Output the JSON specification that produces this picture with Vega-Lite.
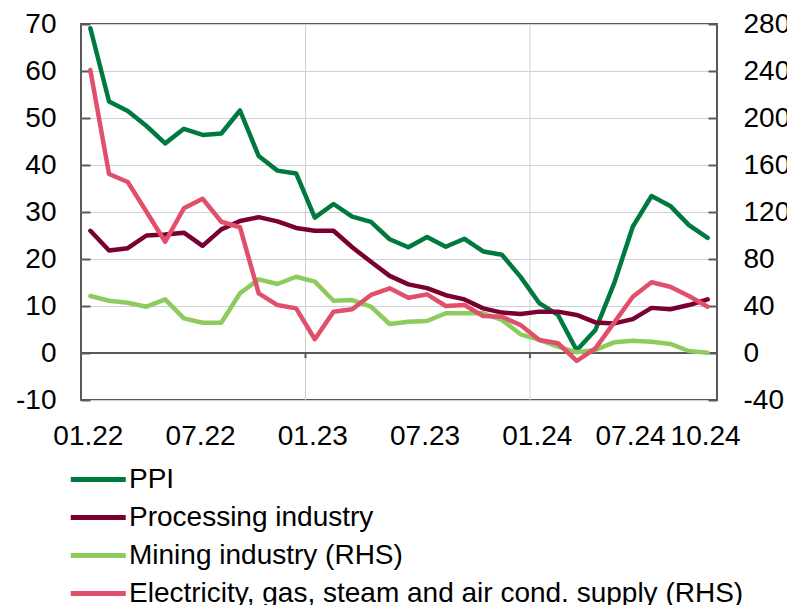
{
  "$schema": "https://vega.github.io/schema/vega-lite/v6.json",
  "width": 636,
  "height": 376,
  "autosize": {"type": "none"},
  "padding": {"left": 81, "top": 24, "right": 70, "bottom": 205},
  "config": {
    "font": "Liberation Sans",
    "view": {"stroke": "#595959", "strokeWidth": 2},
    "axis": {"labelFontSize": 28, "labelColor": "#000000", "labelFont": "Liberation Sans"}
  },
  "datasets": {
    "b": [{"month": "01.23"}, {"month": "01.24"}],
    "z": [{"level": 0}],
    "d": [
      {"month":"01.22","series":"PPI","value":69.1},{"month":"02.22","series":"PPI","value":53.5},{"month":"03.22","series":"PPI","value":51.5},{"month":"04.22","series":"PPI","value":48.3},{"month":"05.22","series":"PPI","value":44.6},{"month":"06.22","series":"PPI","value":47.7},{"month":"07.22","series":"PPI","value":46.4},{"month":"08.22","series":"PPI","value":46.7},{"month":"09.22","series":"PPI","value":51.6},{"month":"10.22","series":"PPI","value":41.9},{"month":"11.22","series":"PPI","value":38.8},{"month":"12.22","series":"PPI","value":38.2},
      {"month":"01.23","series":"PPI","value":28.8},{"month":"02.23","series":"PPI","value":31.7},{"month":"03.23","series":"PPI","value":29.0},{"month":"04.23","series":"PPI","value":27.9},{"month":"05.23","series":"PPI","value":24.2},{"month":"06.23","series":"PPI","value":22.5},{"month":"07.23","series":"PPI","value":24.7},{"month":"08.23","series":"PPI","value":22.6},{"month":"09.23","series":"PPI","value":24.3},{"month":"10.23","series":"PPI","value":21.6},{"month":"11.23","series":"PPI","value":20.9},{"month":"12.23","series":"PPI","value":16.2},
      {"month":"01.24","series":"PPI","value":10.6},{"month":"02.24","series":"PPI","value":8.1},{"month":"03.24","series":"PPI","value":0.6},{"month":"04.24","series":"PPI","value":4.9},{"month":"05.24","series":"PPI","value":14.8},{"month":"06.24","series":"PPI","value":26.9},{"month":"07.24","series":"PPI","value":33.4},{"month":"08.24","series":"PPI","value":31.3},{"month":"09.24","series":"PPI","value":27.2},{"month":"10.24","series":"PPI","value":24.5},
      {"month":"01.22","series":"Processing industry","value":26.0},{"month":"02.22","series":"Processing industry","value":21.8},{"month":"03.22","series":"Processing industry","value":22.3},{"month":"04.22","series":"Processing industry","value":25.0},{"month":"05.22","series":"Processing industry","value":25.2},{"month":"06.22","series":"Processing industry","value":25.6},{"month":"07.22","series":"Processing industry","value":22.8},{"month":"08.22","series":"Processing industry","value":26.3},{"month":"09.22","series":"Processing industry","value":28.1},{"month":"10.22","series":"Processing industry","value":28.9},{"month":"11.22","series":"Processing industry","value":28.0},{"month":"12.22","series":"Processing industry","value":26.6},
      {"month":"01.23","series":"Processing industry","value":26.0},{"month":"02.23","series":"Processing industry","value":26.0},{"month":"03.23","series":"Processing industry","value":22.5},{"month":"04.23","series":"Processing industry","value":19.4},{"month":"05.23","series":"Processing industry","value":16.4},{"month":"06.23","series":"Processing industry","value":14.6},{"month":"07.23","series":"Processing industry","value":13.8},{"month":"08.23","series":"Processing industry","value":12.3},{"month":"09.23","series":"Processing industry","value":11.4},{"month":"10.23","series":"Processing industry","value":9.5},{"month":"11.23","series":"Processing industry","value":8.6},{"month":"12.23","series":"Processing industry","value":8.3},
      {"month":"01.24","series":"Processing industry","value":8.8},{"month":"02.24","series":"Processing industry","value":8.8},{"month":"03.24","series":"Processing industry","value":8.1},{"month":"04.24","series":"Processing industry","value":6.5},{"month":"05.24","series":"Processing industry","value":6.3},{"month":"06.24","series":"Processing industry","value":7.2},{"month":"07.24","series":"Processing industry","value":9.6},{"month":"08.24","series":"Processing industry","value":9.3},{"month":"09.24","series":"Processing industry","value":10.2},{"month":"10.24","series":"Processing industry","value":11.4},
      {"month":"01.22","series":"Mining industry (RHS)","value":48.5},{"month":"02.22","series":"Mining industry (RHS)","value":44.5},{"month":"03.22","series":"Mining industry (RHS)","value":42.8},{"month":"04.22","series":"Mining industry (RHS)","value":39.4},{"month":"05.22","series":"Mining industry (RHS)","value":45.7},{"month":"06.22","series":"Mining industry (RHS)","value":29.5},{"month":"07.22","series":"Mining industry (RHS)","value":25.8},{"month":"08.22","series":"Mining industry (RHS)","value":25.8},{"month":"09.22","series":"Mining industry (RHS)","value":50.8},{"month":"10.22","series":"Mining industry (RHS)","value":62.7},{"month":"11.22","series":"Mining industry (RHS)","value":58.7},{"month":"12.22","series":"Mining industry (RHS)","value":64.9},
      {"month":"01.23","series":"Mining industry (RHS)","value":60.7},{"month":"02.23","series":"Mining industry (RHS)","value":44.5},{"month":"03.23","series":"Mining industry (RHS)","value":45.1},{"month":"04.23","series":"Mining industry (RHS)","value":39.4},{"month":"05.23","series":"Mining industry (RHS)","value":24.7},{"month":"06.23","series":"Mining industry (RHS)","value":26.6},{"month":"07.23","series":"Mining industry (RHS)","value":27.2},{"month":"08.23","series":"Mining industry (RHS)","value":33.8},{"month":"09.23","series":"Mining industry (RHS)","value":33.8},{"month":"10.23","series":"Mining industry (RHS)","value":33.8},{"month":"11.23","series":"Mining industry (RHS)","value":28.1},{"month":"12.23","series":"Mining industry (RHS)","value":15.9},
      {"month":"01.24","series":"Mining industry (RHS)","value":11.1},{"month":"02.24","series":"Mining industry (RHS)","value":5.4},{"month":"03.24","series":"Mining industry (RHS)","value":0.6},{"month":"04.24","series":"Mining industry (RHS)","value":2.6},{"month":"05.24","series":"Mining industry (RHS)","value":9.1},{"month":"06.24","series":"Mining industry (RHS)","value":10.5},{"month":"07.24","series":"Mining industry (RHS)","value":9.6},{"month":"08.24","series":"Mining industry (RHS)","value":7.7},{"month":"09.24","series":"Mining industry (RHS)","value":1.7},{"month":"10.24","series":"Mining industry (RHS)","value":0.3},
      {"month":"01.22","series":"Electricity, gas, steam and air cond. supply (RHS)","value":240.8},{"month":"02.22","series":"Electricity, gas, steam and air cond. supply (RHS)","value":152.3},{"month":"03.22","series":"Electricity, gas, steam and air cond. supply (RHS)","value":145.5},{"month":"04.22","series":"Electricity, gas, steam and air cond. supply (RHS)","value":120.2},{"month":"05.22","series":"Electricity, gas, steam and air cond. supply (RHS)","value":94.7},{"month":"06.22","series":"Electricity, gas, steam and air cond. supply (RHS)","value":123.1},{"month":"07.22","series":"Electricity, gas, steam and air cond. supply (RHS)","value":131.3},{"month":"08.22","series":"Electricity, gas, steam and air cond. supply (RHS)","value":111.7},{"month":"09.22","series":"Electricity, gas, steam and air cond. supply (RHS)","value":107.0},{"month":"10.22","series":"Electricity, gas, steam and air cond. supply (RHS)","value":50.8},{"month":"11.22","series":"Electricity, gas, steam and air cond. supply (RHS)","value":40.8},{"month":"12.22","series":"Electricity, gas, steam and air cond. supply (RHS)","value":38.0},
      {"month":"01.23","series":"Electricity, gas, steam and air cond. supply (RHS)","value":11.7},{"month":"02.23","series":"Electricity, gas, steam and air cond. supply (RHS)","value":35.1},{"month":"03.23","series":"Electricity, gas, steam and air cond. supply (RHS)","value":37.2},{"month":"04.23","series":"Electricity, gas, steam and air cond. supply (RHS)","value":49.4},{"month":"05.23","series":"Electricity, gas, steam and air cond. supply (RHS)","value":55.1},{"month":"06.23","series":"Electricity, gas, steam and air cond. supply (RHS)","value":47.0},{"month":"07.23","series":"Electricity, gas, steam and air cond. supply (RHS)","value":49.9},{"month":"08.23","series":"Electricity, gas, steam and air cond. supply (RHS)","value":40.0},{"month":"09.23","series":"Electricity, gas, steam and air cond. supply (RHS)","value":40.8},{"month":"10.23","series":"Electricity, gas, steam and air cond. supply (RHS)","value":31.5},{"month":"11.23","series":"Electricity, gas, steam and air cond. supply (RHS)","value":30.9},{"month":"12.23","series":"Electricity, gas, steam and air cond. supply (RHS)","value":23.8},
      {"month":"01.24","series":"Electricity, gas, steam and air cond. supply (RHS)","value":11.1},{"month":"02.24","series":"Electricity, gas, steam and air cond. supply (RHS)","value":8.3},{"month":"03.24","series":"Electricity, gas, steam and air cond. supply (RHS)","value":-6.8},{"month":"04.24","series":"Electricity, gas, steam and air cond. supply (RHS)","value":4.0},{"month":"05.24","series":"Electricity, gas, steam and air cond. supply (RHS)","value":25.8},{"month":"06.24","series":"Electricity, gas, steam and air cond. supply (RHS)","value":47.9},{"month":"07.24","series":"Electricity, gas, steam and air cond. supply (RHS)","value":60.2},{"month":"08.24","series":"Electricity, gas, steam and air cond. supply (RHS)","value":56.4},{"month":"09.24","series":"Electricity, gas, steam and air cond. supply (RHS)","value":48.5},{"month":"10.24","series":"Electricity, gas, steam and air cond. supply (RHS)","value":39.4}
    ]
  },
  "layer": [
    {
      "layer": [
        {
          "data": {"name": "b"},
          "mark": {"type": "rule", "color": "#cdd1d5", "strokeWidth": 1},
          "encoding": {
            "x": {"field": "month", "type": "ordinal", "bandPosition": 0,
              "scale": {"type": "band", "paddingInner": 0, "paddingOuter": 0, "domain": ["01.22","02.22","03.22","04.22","05.22","06.22","07.22","08.22","09.22","10.22","11.22","12.22","01.23","02.23","03.23","04.23","05.23","06.23","07.23","08.23","09.23","10.23","11.23","12.23","01.24","02.24","03.24","04.24","05.24","06.24","07.24","08.24","09.24","10.24"]}}
          }
        },
        {
          "data": {"name": "z"},
          "mark": {"type": "rule", "color": "#595959", "strokeWidth": 2},
          "encoding": {"y": {"field": "level", "type": "quantitative"}}
        },
        {
          "data": {"name": "b"},
          "mark": {"type": "rule", "color": "#595959", "strokeWidth": 2},
          "encoding": {
            "x": {"field": "month", "type": "ordinal", "bandPosition": 0,
              "scale": {"type": "band", "paddingInner": 0, "paddingOuter": 0, "domain": ["01.22","02.22","03.22","04.22","05.22","06.22","07.22","08.22","09.22","10.22","11.22","12.22","01.23","02.23","03.23","04.23","05.23","06.23","07.23","08.23","09.23","10.23","11.23","12.23","01.24","02.24","03.24","04.24","05.24","06.24","07.24","08.24","09.24","10.24"]}},
            "y": {"datum": 0, "type": "quantitative"},
            "y2": {"datum": -1.1}
          }
        },
        {
          "data": {"name": "d"},
          "transform": [{"filter": {"field": "series", "oneOf": ["PPI", "Processing industry"]}}],
          "mark": {"type": "line", "strokeWidth": 4.5, "strokeJoin": "round", "strokeCap": "round"},
          "encoding": {
            "x": {"field": "month", "type": "ordinal", "bandPosition": 0.5,
              "scale": {"type": "band", "paddingInner": 0, "paddingOuter": 0, "domain": ["01.22","02.22","03.22","04.22","05.22","06.22","07.22","08.22","09.22","10.22","11.22","12.22","01.23","02.23","03.23","04.23","05.23","06.23","07.23","08.23","09.23","10.23","11.23","12.23","01.24","02.24","03.24","04.24","05.24","06.24","07.24","08.24","09.24","10.24"]},
              "axis": {"orient": "bottom", "values": ["01.22","07.22","01.23","07.23","01.24","07.24","10.24"], "ticks": false, "domain": false, "grid": false, "labelAngle": 0, "labelAlign": "center", "labelBaseline": "top", "labelPadding": 22, "labelOffset": {"condition": {"test": "datum.value === '07.24'", "value": -21}, "value": -2}, "title": null}},
            "y": {"field": "value", "type": "quantitative",
              "scale": {"domain": [-10, 70], "nice": false, "zero": false},
              "axis": {"orient": "left", "values": [-10, 0, 10, 20, 30, 40, 50, 60, 70], "labelExpr": "'' + datum.value", "grid": true, "gridColor": "#cdd1d5", "gridWidth": 1, "domain": false, "tickSize": -9, "tickColor": "#595959", "tickWidth": 2, "labelPadding": 34, "title": null}},
            "color": {"field": "series", "type": "nominal",
              "scale": {"domain": ["PPI", "Processing industry", "Mining industry (RHS)", "Electricity, gas, steam and air cond. supply (RHS)"], "range": ["#00793f", "#7a0032", "#8dcb5f", "#e0506b"]},
              "legend": {"orient": "none", "legendX": -13, "legendY": 439, "direction": "vertical", "title": null, "symbolType": "M-1,0L3,0", "symbolStrokeWidth": 5, "symbolSize": 756, "labelFontSize": 28, "labelFont": "Liberation Sans", "labelColor": "#000000", "labelOffset": 28, "rowPadding": 7, "padding": 0, "labelLimit": 1000}}
          }
        }
      ]
    },
    {
      "data": {"name": "d"},
      "transform": [{"filter": {"field": "series", "oneOf": ["Mining industry (RHS)", "Electricity, gas, steam and air cond. supply (RHS)"]}}],
      "mark": {"type": "line", "strokeWidth": 4.5, "strokeJoin": "round", "strokeCap": "round"},
      "encoding": {
        "x": {"field": "month", "type": "ordinal", "bandPosition": 0.5,
          "scale": {"type": "band", "paddingInner": 0, "paddingOuter": 0, "domain": ["01.22","02.22","03.22","04.22","05.22","06.22","07.22","08.22","09.22","10.22","11.22","12.22","01.23","02.23","03.23","04.23","05.23","06.23","07.23","08.23","09.23","10.23","11.23","12.23","01.24","02.24","03.24","04.24","05.24","06.24","07.24","08.24","09.24","10.24"]}},
        "y": {"field": "value", "type": "quantitative",
          "scale": {"domain": [-40, 280], "nice": false, "zero": false},
          "axis": {"orient": "right", "values": [-40, 0, 40, 80, 120, 160, 200, 240, 280], "labelExpr": "'' + datum.value", "grid": false, "domain": false, "tickSize": -9, "tickColor": "#595959", "tickWidth": 2, "labelPadding": 35, "title": null}},
        "color": {"field": "series", "type": "nominal",
          "scale": {"domain": ["PPI", "Processing industry", "Mining industry (RHS)", "Electricity, gas, steam and air cond. supply (RHS)"], "range": ["#00793f", "#7a0032", "#8dcb5f", "#e0506b"]}}
      }
    }
  ],
  "resolve": {"scale": {"y": "independent"}}
}
